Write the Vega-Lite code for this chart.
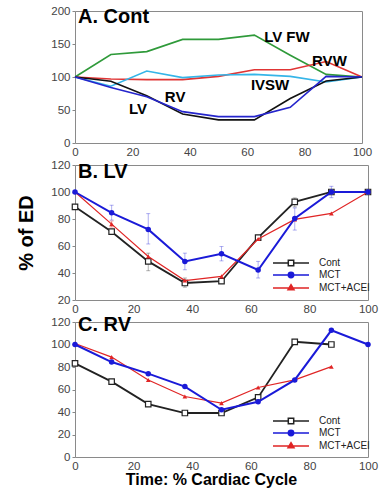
{
  "$schema": "https://vega.github.io/schema/vega-lite/v6.json",
  "padding": {"left": 16, "top": 4, "right": 5, "bottom": 0},
  "spacing": 22,
  "bounds": "flush",
  "resolve": {"scale": {"color": "independent", "shape": "independent", "fill": "independent"}, "legend": {"color": "independent", "shape": "independent", "fill": "independent"}},
  "config": {
    "font": "Liberation Sans",
    "view": {"stroke": "#8a8a8a", "strokeWidth": 1},
    "axis": {"domain": false, "grid": false, "labelFont": "Liberation Sans", "labelFontSize": 11.5, "labelColor": "#444", "tickColor": "#888", "tickSize": 3, "labelPadding": 2, "labelFlush": false, "labelOverlap": false, "tickCount": 20, "titleFont": "Liberation Sans", "titleColor": "#000", "titleFontWeight": "bold"},
    "axisX": {"tickSize": 0, "labelPadding": 3},
    "title": {"font": "Liberation Sans", "fontSize": 20, "fontWeight": "bold", "color": "#000", "anchor": "start", "frame": "group", "baseline": "alphabetic", "dx": 3}
  },
  "datasets": {
    "A": [
      {"s": "LV FW", "t": 0, "v": 100}, {"s": "LV FW", "t": 12.5, "v": 134}, {"s": "LV FW", "t": 25, "v": 138.5}, {"s": "LV FW", "t": 37.5, "v": 157}, {"s": "LV FW", "t": 50, "v": 157}, {"s": "LV FW", "t": 62.5, "v": 163.5}, {"s": "LV FW", "t": 75, "v": 133}, {"s": "LV FW", "t": 87.5, "v": 104}, {"s": "LV FW", "t": 100, "v": 100},
      {"s": "RVW", "t": 0, "v": 100}, {"s": "RVW", "t": 12.5, "v": 97}, {"s": "RVW", "t": 25, "v": 96}, {"s": "RVW", "t": 37.5, "v": 96}, {"s": "RVW", "t": 50, "v": 101}, {"s": "RVW", "t": 62.5, "v": 111}, {"s": "RVW", "t": 75, "v": 111}, {"s": "RVW", "t": 87.5, "v": 123.5}, {"s": "RVW", "t": 100, "v": 100},
      {"s": "IVSW", "t": 0, "v": 100}, {"s": "IVSW", "t": 12.5, "v": 86}, {"s": "IVSW", "t": 25, "v": 109}, {"s": "IVSW", "t": 37.5, "v": 99}, {"s": "IVSW", "t": 50, "v": 103}, {"s": "IVSW", "t": 62.5, "v": 104}, {"s": "IVSW", "t": 75, "v": 101}, {"s": "IVSW", "t": 87.5, "v": 92.5}, {"s": "IVSW", "t": 100, "v": 100},
      {"s": "LV", "t": 0, "v": 100}, {"s": "LV", "t": 12.5, "v": 93.5}, {"s": "LV", "t": 25, "v": 71.5}, {"s": "LV", "t": 37.5, "v": 44}, {"s": "LV", "t": 50, "v": 35}, {"s": "LV", "t": 62.5, "v": 35}, {"s": "LV", "t": 75, "v": 67.5}, {"s": "LV", "t": 87.5, "v": 94}, {"s": "LV", "t": 100, "v": 100},
      {"s": "RV", "t": 0, "v": 100}, {"s": "RV", "t": 12.5, "v": 84}, {"s": "RV", "t": 25, "v": 70}, {"s": "RV", "t": 37.5, "v": 47.5}, {"s": "RV", "t": 50, "v": 40}, {"s": "RV", "t": 62.5, "v": 40}, {"s": "RV", "t": 75, "v": 54}, {"s": "RV", "t": 87.5, "v": 101}, {"s": "RV", "t": 100, "v": 100}
    ],
    "labA": [
      {"label": "LV FW", "t": 65.9, "v": 160.6},
      {"label": "RVW", "t": 82.6, "v": 124.7},
      {"label": "IVSW", "t": 61.3, "v": 87.9},
      {"label": "RV", "t": 31.3, "v": 69.2},
      {"label": "LV", "t": 18.8, "v": 51}
    ],
    "B": [
      {"s": "Cont", "t": 0, "v": 89}, {"s": "Cont", "t": 12.5, "v": 70.6}, {"s": "Cont", "t": 25, "v": 48.6, "lo": 41.7, "hi": 54.7}, {"s": "Cont", "t": 37.5, "v": 32.6, "lo": 29.5, "hi": 36.3}, {"s": "Cont", "t": 50, "v": 33.9}, {"s": "Cont", "t": 62.5, "v": 66.2}, {"s": "Cont", "t": 75, "v": 92.7, "lo": 89, "hi": 95.6}, {"s": "Cont", "t": 87.5, "v": 100}, {"s": "Cont", "t": 100, "v": 100},
      {"s": "MCT", "t": 0, "v": 100}, {"s": "MCT", "t": 12.5, "v": 84.6, "lo": 79.2, "hi": 90.2}, {"s": "MCT", "t": 25, "v": 72.3, "lo": 61.5, "hi": 84}, {"s": "MCT", "t": 37.5, "v": 48.6, "lo": 42.4, "hi": 54.7}, {"s": "MCT", "t": 50, "v": 54.2, "lo": 49, "hi": 59.6}, {"s": "MCT", "t": 62.5, "v": 42.2, "lo": 36.3, "hi": 48.6}, {"s": "MCT", "t": 75, "v": 80.4, "lo": 71.8, "hi": 88.2}, {"s": "MCT", "t": 87.5, "v": 100, "lo": 95.8, "hi": 104.2}, {"s": "MCT", "t": 100, "v": 100},
      {"s": "MCT+ACEI", "t": 0, "v": 100}, {"s": "MCT+ACEI", "t": 12.5, "v": 76.2, "lo": 74, "hi": 78.5}, {"s": "MCT+ACEI", "t": 25, "v": 52.2}, {"s": "MCT+ACEI", "t": 37.5, "v": 34.4}, {"s": "MCT+ACEI", "t": 50, "v": 37.5}, {"s": "MCT+ACEI", "t": 62.5, "v": 65.2}, {"s": "MCT+ACEI", "t": 75, "v": 79.7}, {"s": "MCT+ACEI", "t": 87.5, "v": 84.1}, {"s": "MCT+ACEI", "t": 100, "v": 100}
    ],
    "C": [
      {"s": "Cont", "t": 0, "v": 83.2}, {"s": "Cont", "t": 12.5, "v": 67}, {"s": "Cont", "t": 25, "v": 47}, {"s": "Cont", "t": 37.5, "v": 39.1}, {"s": "Cont", "t": 50, "v": 39.1}, {"s": "Cont", "t": 62.5, "v": 53}, {"s": "Cont", "t": 75, "v": 102.4}, {"s": "Cont", "t": 87.5, "v": 100},
      {"s": "MCT", "t": 0, "v": 100}, {"s": "MCT", "t": 12.5, "v": 84.4}, {"s": "MCT", "t": 25, "v": 74.1}, {"s": "MCT", "t": 37.5, "v": 62.6}, {"s": "MCT", "t": 50, "v": 42}, {"s": "MCT", "t": 62.5, "v": 49.1}, {"s": "MCT", "t": 75, "v": 68.5}, {"s": "MCT", "t": 87.5, "v": 112.6}, {"s": "MCT", "t": 100, "v": 100},
      {"s": "MCT+ACEI", "t": 0, "v": 100.9}, {"s": "MCT+ACEI", "t": 12.5, "v": 88.8}, {"s": "MCT+ACEI", "t": 25, "v": 68.5}, {"s": "MCT+ACEI", "t": 37.5, "v": 53.8}, {"s": "MCT+ACEI", "t": 50, "v": 47.9}, {"s": "MCT+ACEI", "t": 62.5, "v": 61.8}, {"s": "MCT+ACEI", "t": 75, "v": 68.5}, {"s": "MCT+ACEI", "t": 87.5, "v": 80.3}
    ]
  },
  "vconcat": [
    {
      "width": 287, "height": 132,
      "title": {"text": "A. Cont", "offset": -22},
      "layer": [
        {
          "data": {"name": "A"},
          "mark": {"type": "line", "strokeWidth": 1.6},
          "encoding": {
            "x": {"field": "t", "type": "quantitative", "scale": {"domain": [0, 100], "nice": false}, "axis": {"title": null, "values": [0, 20, 40, 60, 80, 100]}},
            "y": {"field": "v", "type": "quantitative", "scale": {"domain": [0, 200], "nice": false}, "axis": {"title": null, "tickCount": 20, "values": [0, 50, 100, 150, 200]}},
            "color": {"field": "s", "type": "nominal", "scale": {"domain": ["LV FW", "RVW", "IVSW", "LV", "RV"], "range": ["#2f9a3a", "#e03535", "#35b5e8", "#111111", "#2525cc"]}, "legend": null},
            "order": {"field": "t", "type": "quantitative"}
          }
        },
        {
          "data": {"name": "labA"},
          "mark": {"type": "text", "align": "left", "baseline": "middle", "fontSize": 15, "fontWeight": "bold", "color": "#000"},
          "encoding": {
            "x": {"field": "t", "type": "quantitative"},
            "y": {"field": "v", "type": "quantitative"},
            "text": {"field": "label"}
          }
        }
      ]
    },
    {
      "width": 293, "height": 135,
      "title": {"text": "B. LV", "offset": -23},
      "data": {"name": "B"},
      "layer": [
        {
          "mark": {"type": "point", "filled": false, "strokeWidth": 1.5, "opacity": 0},
          "encoding": {
            "x": {"field": "t", "type": "quantitative", "scale": {"domain": [0, 100], "nice": false}, "axis": {"title": null, "values": [0, 20, 40, 60, 80, 100]}},
            "y": {"field": "v", "type": "quantitative", "scale": {"domain": [20, 120], "nice": false, "zero": false}, "axis": {"title": "% of ED", "titleFontSize": 20, "titlePadding": 14, "tickCount": 20, "values": [20, 40, 60, 80, 100, 120]}},
            "color": {"field": "s", "type": "nominal", "scale": {"domain": ["Cont", "MCT", "MCT+ACEI"], "range": ["#222222", "#1a1ad8", "#e02525"]},
              "legend": {"title": null, "orient": "none", "legendX": 193, "legendY": 93, "symbolSize": 36, "symbolOffset": 18, "labelOffset": 23, "labelFontSize": 10, "labelFont": "Liberation Sans", "labelColor": "#222", "rowPadding": 0, "padding": 0, "symbolStrokeWidth": 1.5, "symbolOpacity": 1}},
            "fill": {"field": "s", "type": "nominal", "scale": {"domain": ["Cont", "MCT", "MCT+ACEI"], "range": ["#ffffff", "#1a1ad8", "#e02525"]},
              "legend": {"title": null, "orient": "none", "legendX": 193, "legendY": 93, "symbolSize": 36, "symbolOffset": 18, "labelOffset": 23, "labelFontSize": 10, "labelFont": "Liberation Sans", "labelColor": "#222", "rowPadding": 0, "padding": 0, "symbolStrokeWidth": 1.5, "symbolOpacity": 1}},
            "shape": {"field": "s", "type": "nominal", "scale": {"domain": ["Cont", "MCT", "MCT+ACEI"], "range": ["M-6,0H-0.9M0.9,0H6M-0.9,-0.9H0.9V0.9H-0.9Z", "M-6,0H6M0.9,0A0.9,0.9,0,1,1,-0.9,0A0.9,0.9,0,1,1,0.9,0Z", "M-6,0H6M0,-1.1L1,0.6L-1,0.6Z"]},
              "legend": {"title": null, "orient": "none", "legendX": 193, "legendY": 93, "symbolSize": 36, "symbolOffset": 18, "labelOffset": 23, "labelFontSize": 10, "labelFont": "Liberation Sans", "labelColor": "#222", "rowPadding": 0, "padding": 0, "symbolStrokeWidth": 1.5, "symbolOpacity": 1}}
          }
        },
        {
          "transform": [{"filter": "isValid(datum.lo)"}],
          "mark": {"type": "rule", "strokeWidth": 1, "opacity": 0.35},
          "encoding": {
            "x": {"field": "t", "type": "quantitative"},
            "y": {"field": "lo", "type": "quantitative"},
            "y2": {"field": "hi"},
            "color": {"condition": [{"test": "datum.s === 'MCT'", "value": "#1a1ad8"}, {"test": "datum.s === 'MCT+ACEI'", "value": "#e02525"}], "value": "#222222"}
          }
        },
        {
          "transform": [{"filter": "isValid(datum.lo)"}],
          "mark": {"type": "tick", "orient": "horizontal", "size": 4, "thickness": 1, "opacity": 0.35},
          "encoding": {
            "x": {"field": "t", "type": "quantitative"},
            "y": {"field": "lo", "type": "quantitative"},
            "color": {"condition": [{"test": "datum.s === 'MCT'", "value": "#1a1ad8"}, {"test": "datum.s === 'MCT+ACEI'", "value": "#e02525"}], "value": "#222222"}
          }
        },
        {
          "transform": [{"filter": "isValid(datum.hi)"}],
          "mark": {"type": "tick", "orient": "horizontal", "size": 4, "thickness": 1, "opacity": 0.35},
          "encoding": {
            "x": {"field": "t", "type": "quantitative"},
            "y": {"field": "hi", "type": "quantitative"},
            "color": {"condition": [{"test": "datum.s === 'MCT'", "value": "#1a1ad8"}, {"test": "datum.s === 'MCT+ACEI'", "value": "#e02525"}], "value": "#222222"}
          }
        },
        {
          "transform": [{"filter": {"field": "s", "equal": "Cont"}}],
          "mark": {"type": "line", "color": "#222222", "strokeWidth": 1.8, "point": {"shape": "square", "filled": true, "fill": "white", "stroke": "#222222", "strokeWidth": 1.2, "size": 30, "opacity": 1}},
          "encoding": {"x": {"field": "t", "type": "quantitative"}, "y": {"field": "v", "type": "quantitative"}, "order": {"field": "t", "type": "quantitative"}}
        },
        {
          "transform": [{"filter": {"field": "s", "equal": "MCT+ACEI"}}],
          "mark": {"type": "line", "color": "#e02525", "strokeWidth": 1.2, "point": {"shape": "triangle-up", "filled": true, "color": "#e02525", "size": 22, "opacity": 1}},
          "encoding": {"x": {"field": "t", "type": "quantitative"}, "y": {"field": "v", "type": "quantitative"}, "order": {"field": "t", "type": "quantitative"}}
        },
        {
          "transform": [{"filter": {"field": "s", "equal": "MCT"}}],
          "mark": {"type": "line", "color": "#1a1ad8", "strokeWidth": 2, "point": {"shape": "circle", "filled": true, "color": "#1a1ad8", "size": 30, "opacity": 1}},
          "encoding": {"x": {"field": "t", "type": "quantitative"}, "y": {"field": "v", "type": "quantitative"}, "order": {"field": "t", "type": "quantitative"}}
        }
      ]
    },
    {
      "width": 293, "height": 135,
      "title": {"text": "C. RV", "offset": -19},
      "data": {"name": "C"},
      "layer": [
        {
          "mark": {"type": "point", "filled": false, "strokeWidth": 1.5, "opacity": 0},
          "encoding": {
            "x": {"field": "t", "type": "quantitative", "scale": {"domain": [0, 100], "nice": false}, "axis": {"title": "Time: % Cardiac Cycle", "titleFontSize": 16, "titlePadding": 0, "titleX": 136, "values": [0, 20, 40, 60, 80, 100]}},
            "y": {"field": "v", "type": "quantitative", "scale": {"domain": [0, 120], "nice": false}, "axis": {"title": null, "tickCount": 20, "values": [0, 20, 40, 60, 80, 100, 120]}},
            "color": {"field": "s", "type": "nominal", "scale": {"domain": ["Cont", "MCT", "MCT+ACEI"], "range": ["#222222", "#1a1ad8", "#e02525"]},
              "legend": {"title": null, "orient": "none", "legendX": 193, "legendY": 94, "symbolSize": 36, "symbolOffset": 18, "labelOffset": 23, "labelFontSize": 10, "labelFont": "Liberation Sans", "labelColor": "#222", "rowPadding": 0, "padding": 0, "symbolStrokeWidth": 1.5, "symbolOpacity": 1}},
            "fill": {"field": "s", "type": "nominal", "scale": {"domain": ["Cont", "MCT", "MCT+ACEI"], "range": ["#ffffff", "#1a1ad8", "#e02525"]},
              "legend": {"title": null, "orient": "none", "legendX": 193, "legendY": 94, "symbolSize": 36, "symbolOffset": 18, "labelOffset": 23, "labelFontSize": 10, "labelFont": "Liberation Sans", "labelColor": "#222", "rowPadding": 0, "padding": 0, "symbolStrokeWidth": 1.5, "symbolOpacity": 1}},
            "shape": {"field": "s", "type": "nominal", "scale": {"domain": ["Cont", "MCT", "MCT+ACEI"], "range": ["M-6,0H-0.9M0.9,0H6M-0.9,-0.9H0.9V0.9H-0.9Z", "M-6,0H6M0.9,0A0.9,0.9,0,1,1,-0.9,0A0.9,0.9,0,1,1,0.9,0Z", "M-6,0H6M0,-1.1L1,0.6L-1,0.6Z"]},
              "legend": {"title": null, "orient": "none", "legendX": 193, "legendY": 94, "symbolSize": 36, "symbolOffset": 18, "labelOffset": 23, "labelFontSize": 10, "labelFont": "Liberation Sans", "labelColor": "#222", "rowPadding": 0, "padding": 0, "symbolStrokeWidth": 1.5, "symbolOpacity": 1}}
          }
        },
        {
          "transform": [{"filter": {"field": "s", "equal": "Cont"}}],
          "mark": {"type": "line", "color": "#222222", "strokeWidth": 1.8, "point": {"shape": "square", "filled": true, "fill": "white", "stroke": "#222222", "strokeWidth": 1.2, "size": 30, "opacity": 1}},
          "encoding": {"x": {"field": "t", "type": "quantitative"}, "y": {"field": "v", "type": "quantitative"}, "order": {"field": "t", "type": "quantitative"}}
        },
        {
          "transform": [{"filter": {"field": "s", "equal": "MCT+ACEI"}}],
          "mark": {"type": "line", "color": "#e02525", "strokeWidth": 1.2, "point": {"shape": "triangle-up", "filled": true, "color": "#e02525", "size": 22, "opacity": 1}},
          "encoding": {"x": {"field": "t", "type": "quantitative"}, "y": {"field": "v", "type": "quantitative"}, "order": {"field": "t", "type": "quantitative"}}
        },
        {
          "transform": [{"filter": {"field": "s", "equal": "MCT"}}],
          "mark": {"type": "line", "color": "#1a1ad8", "strokeWidth": 2, "point": {"shape": "circle", "filled": true, "color": "#1a1ad8", "size": 30, "opacity": 1}},
          "encoding": {"x": {"field": "t", "type": "quantitative"}, "y": {"field": "v", "type": "quantitative"}, "order": {"field": "t", "type": "quantitative"}}
        }
      ]
    }
  ]
}
